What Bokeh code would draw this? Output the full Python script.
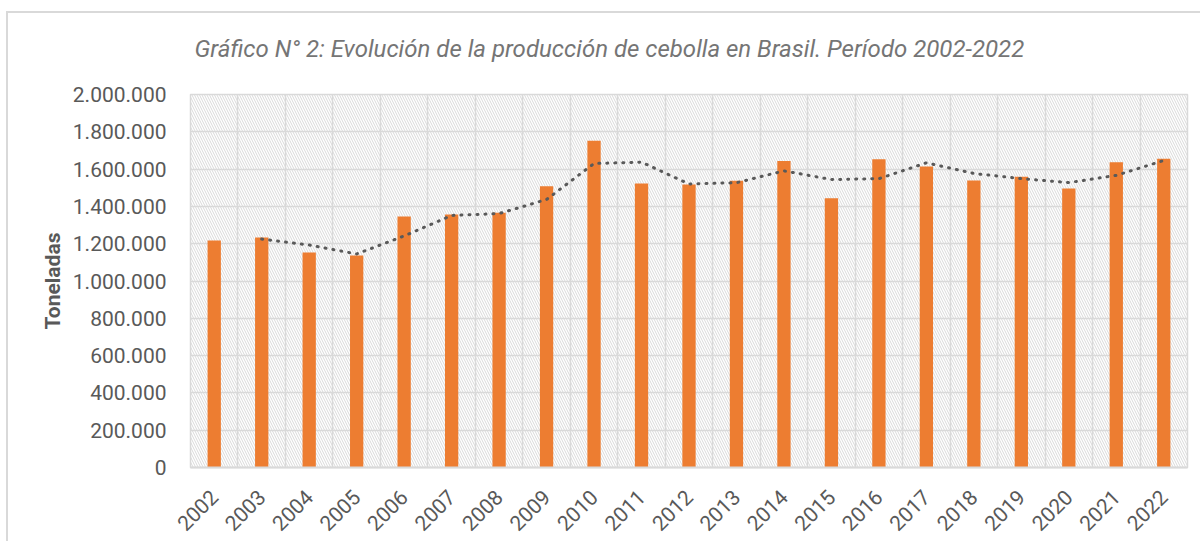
import math
from bokeh.plotting import figure
from bokeh.models import (ColumnDataSource, Range1d, FixedTicker, BoxAnnotation)
from bokeh.embed import file_html
from bokeh.resources import INLINE

# ---- data ----
years = [str(y) for y in range(2002, 2023)]
production = [1217000, 1233000, 1153000, 1137000, 1346000, 1357000, 1366000,
              1508000, 1752000, 1523000, 1517000, 1537000, 1644000, 1444000,
              1653000, 1614000, 1539000, 1559000, 1496000, 1637000, 1655000]
y_ticks = [0, 200000, 400000, 600000, 800000, 1000000, 1200000, 1400000,
           1600000, 1800000, 2000000]
y_tick_labels = ["0", "200.000", "400.000", "600.000", "800.000", "1.000.000",
                 "1.200.000", "1.400.000", "1.600.000", "1.800.000", "2.000.000"]
title_text = "Gráfico N° 2: Evolución de la producción de cebolla en Brasil. Período 2002-2022"
y_label = "Toneladas"

# 2-period moving average trendline
idx = list(range(len(years)))
ma_x = idx[1:]
ma_y = [(production[i - 1] + production[i]) / 2 for i in ma_x]

FONT = "Roboto"
GRID = "#d9d9d9"
TXT = "#595959"

W, H = 1200, 541
p = figure(width=W, height=H, output_backend="svg", toolbar_location=None,
           x_range=Range1d(-0.5, len(years) - 0.5), y_range=Range1d(0, 2000000),
           min_border_left=190, min_border_right=13, min_border_top=94,
           min_border_bottom=74)
# outer chart border (top and left edges of the chart box), painted behind
# the transparent canvas border area
p.styles = {
    "background-image": "linear-gradient(#d9d9d9, #d9d9d9), linear-gradient(#d9d9d9, #d9d9d9)",
    "background-repeat": "no-repeat",
    "background-position": "6px 11px, 6px 11px",
    "background-size": "100% 2px, 2px 100%",
}

p.background_fill_color = "white"
p.border_fill_color = None
p.outline_line_color = GRID
p.outline_line_width = 1.5

# hatched plot area background
hatch = BoxAnnotation(fill_alpha=0, line_color=None, level="image",
                      hatch_pattern="left_diagonal_line", hatch_color=GRID,
                      hatch_scale=5, hatch_weight=1)
p.add_layout(hatch)

# title
p.title.text = title_text
p.title.text_font = FONT
p.title.text_font_style = "italic"
p.title.text_font_size = "24px"
p.title.text_color = "#757575"
p.title.align = "left"
p.title.offset = 4
p.title.standoff = 64

# grids
p.xgrid.ticker = FixedTicker(ticks=[i - 0.5 for i in range(len(years) + 1)])
p.xgrid.grid_line_color = GRID
p.xgrid.grid_line_width = 1.5
p.ygrid.ticker = FixedTicker(ticks=y_ticks)
p.ygrid.grid_line_color = GRID
p.ygrid.grid_line_width = 1.5

# x axis
p.xaxis.ticker = FixedTicker(ticks=idx)
p.xaxis.major_label_overrides = {i: y for i, y in zip(idx, years)}
p.xaxis.major_label_orientation = math.pi / 4
p.xaxis.major_label_text_font = FONT
p.xaxis.major_label_text_font_size = "21px"
p.xaxis.major_label_text_color = TXT
p.xaxis.major_label_standoff = 20
p.xaxis.axis_line_color = GRID
p.xaxis.axis_line_width = 2
p.xaxis.major_tick_line_color = None
p.xaxis.minor_tick_line_color = None

# y axis
p.yaxis.ticker = FixedTicker(ticks=y_ticks)
p.yaxis.major_label_overrides = {t: l for t, l in zip(y_ticks, y_tick_labels)}
p.yaxis.major_label_text_font = FONT
p.yaxis.major_label_text_font_size = "21px"
p.yaxis.major_label_text_color = TXT
p.yaxis.major_label_standoff = 18
p.yaxis.axis_line_color = None
p.yaxis.major_tick_line_color = None
p.yaxis.minor_tick_line_color = None
p.yaxis.axis_label = y_label
p.yaxis.axis_label_text_font = FONT
p.yaxis.axis_label_text_font_style = "bold"
p.yaxis.axis_label_text_font_size = "21px"
p.yaxis.axis_label_text_color = TXT
p.yaxis.axis_label_standoff = 5

src = ColumnDataSource(dict(x=idx, top=production, year=years))
p.vbar(x="x", top="top", width=0.28, source=src, fill_color="#ED7D31",
       line_color=None)

ma_src = ColumnDataSource(dict(x=ma_x, y=ma_y))
p.line(x="x", y="y", source=ma_src, line_color="#595959", line_width=3,
       line_dash="1 7", line_cap="round")

open("out.html", "w").write(file_html(p, INLINE))
